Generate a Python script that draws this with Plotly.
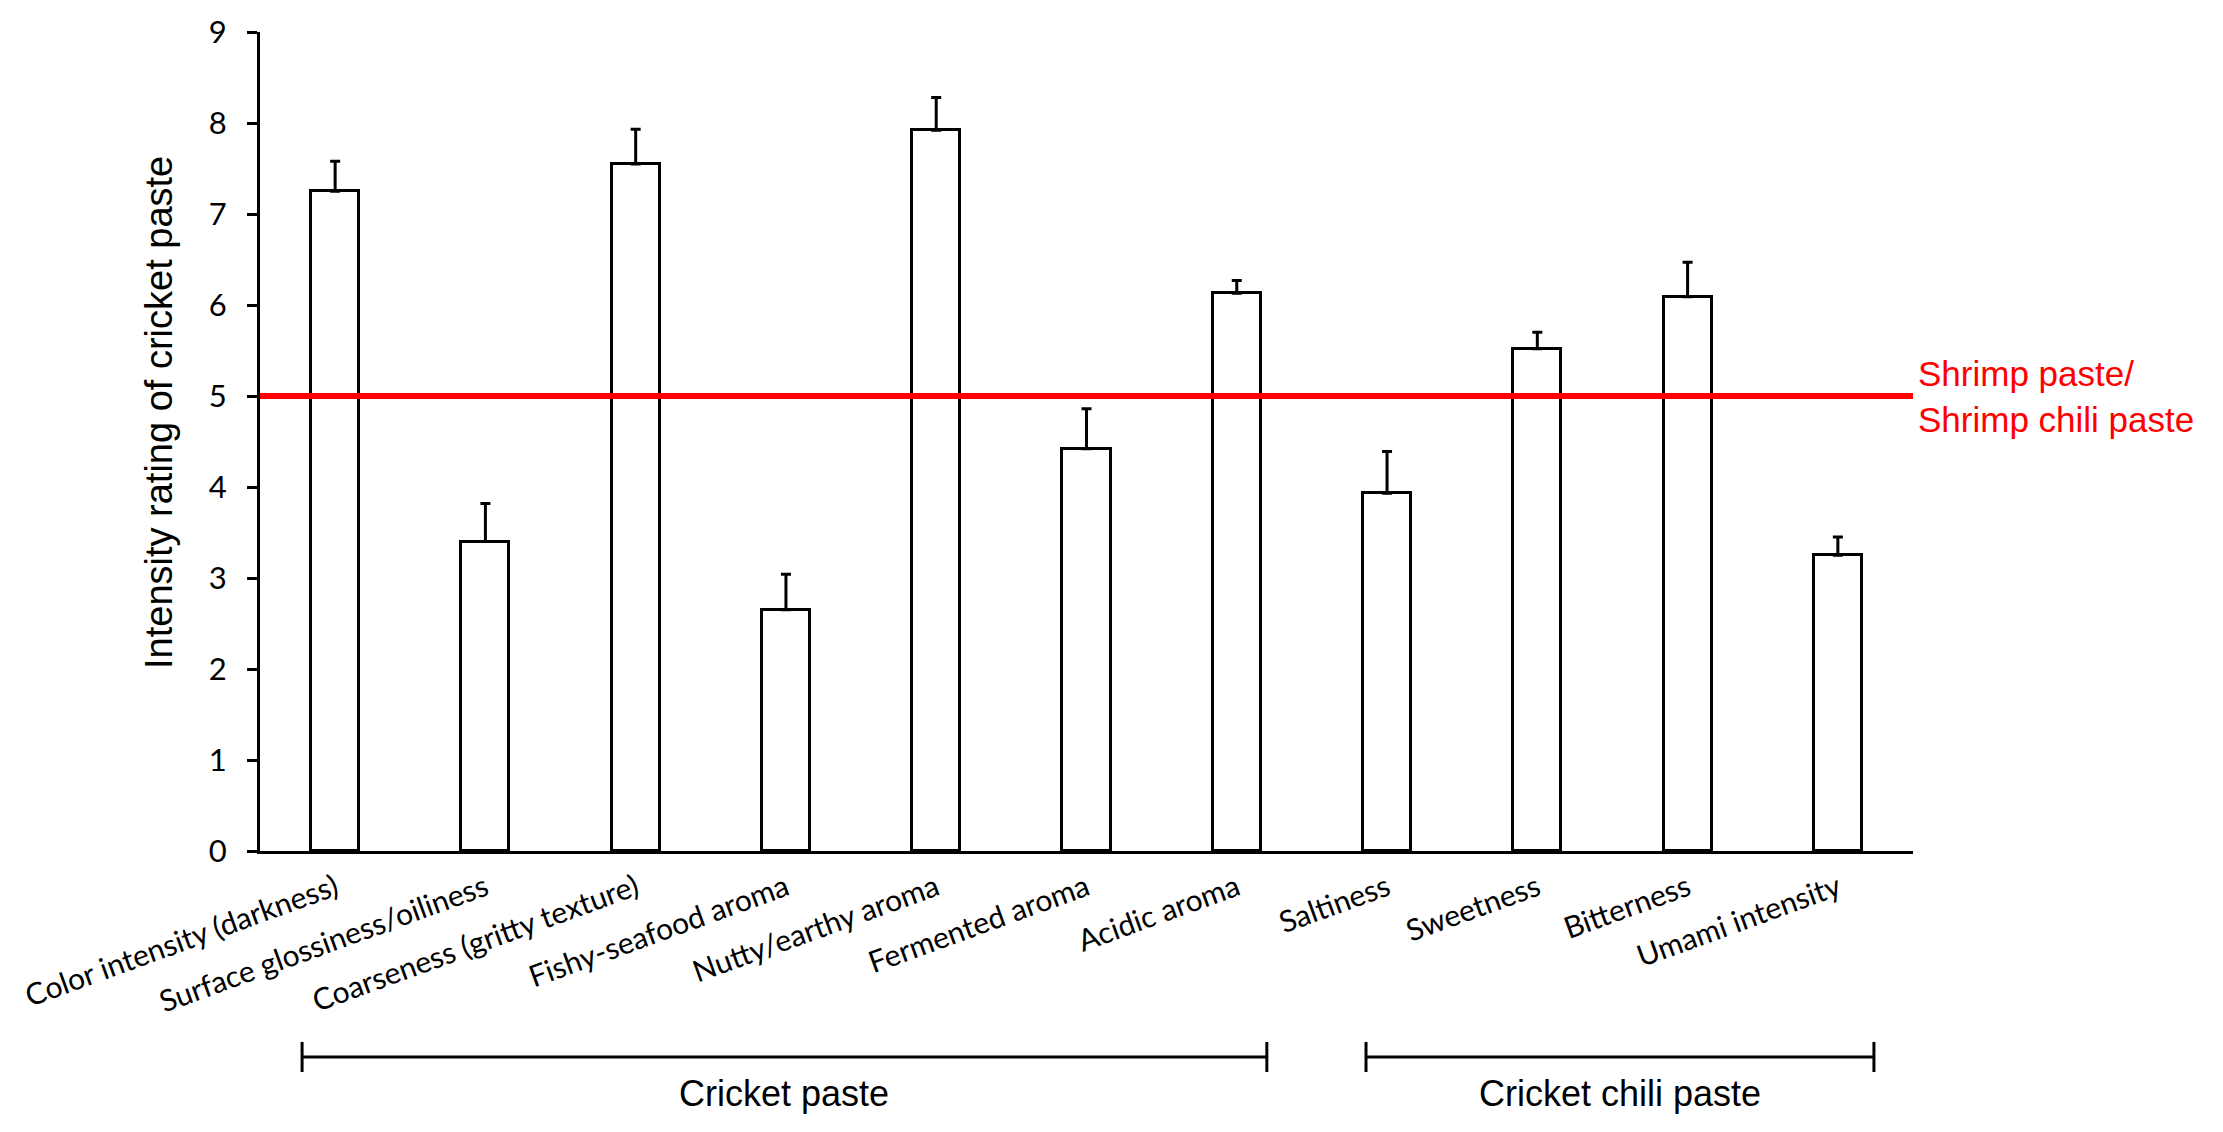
import plotly.graph_objects as go

categories = [
    "Color intensity (darkness)",
    "Surface glossiness/oiliness",
    "Coarseness (gritty texture)",
    "Fishy-seafood aroma",
    "Nutty/earthy aroma",
    "Fermented aroma",
    "Acidic aroma",
    "Saltiness",
    "Sweetness",
    "Bitterness",
    "Umami intensity",
]
means = [7.25, 3.40, 7.55, 2.65, 7.92, 4.42, 6.13, 3.93, 5.52, 6.09, 3.25]
errors = [0.33, 0.42, 0.38, 0.39, 0.36, 0.44, 0.14, 0.46, 0.18, 0.38, 0.20]
reference_value = 5
reference_label = "Shrimp paste/<br>Shrimp chili paste"
y_ticks = [0, 1, 2, 3, 4, 5, 6, 7, 8, 9]
groups = [
    ("Cricket paste", -0.22, 6.20),
    ("Cricket chili paste", 6.86, 10.24),
]

W, H = 2223, 1132
ML, MR, MT, MB = 252, 318, 24, 289
plot_h = H - MT - MB

xpos = list(range(len(categories)))

fig = go.Figure()
fig.add_trace(go.Bar(
    x=xpos, y=means, width=0.32,
    marker=dict(color="white", line=dict(color="black", width=3)),
    error_y=dict(type="data", array=errors, arrayminus=[0] * len(errors),
                 symmetric=False, color="black", thickness=3, width=5),
    showlegend=False,
))

shapes = [
    dict(type="line", xref="x", yref="y", x0=-0.5, x1=len(categories) - 0.5,
         y0=reference_value, y1=reference_value,
         line=dict(color="#FF0000", width=6), layer="above"),
]

def py(real_y):
    return (H - MB - real_y) / plot_h

annotations = [
    dict(text=reference_label, xref="paper", yref="y", x=1.002, y=reference_value,
         xanchor="left", yanchor="middle", align="left", showarrow=False,
         font=dict(family="Liberation Sans, Arial", size=35, color="#FF0000")),
    dict(text="Intensity rating of cricket paste", xref="paper", yref="paper",
         x=0, y=py(405), xshift=-101, xanchor="center", yanchor="middle",
         textangle=-90, showarrow=False,
         font=dict(family="Liberation Sans, Arial", size=38, color="black")),
]

bracket_y = py(1049)
tick_h = 15 / plot_h
for name, x0, x1 in groups:
    shapes.append(dict(type="line", xref="x", yref="paper", x0=x0, x1=x1,
                       y0=bracket_y, y1=bracket_y, line=dict(color="black", width=3)))
    for xe in (x0, x1):
        shapes.append(dict(type="line", xref="x", yref="paper", x0=xe, x1=xe,
                           y0=bracket_y - tick_h, y1=bracket_y + tick_h,
                           line=dict(color="black", width=3)))
    annotations.append(dict(text=name, xref="x", yref="paper", x=(x0 + x1) / 2,
                            y=py(1085), xanchor="center", yanchor="middle",
                            showarrow=False,
                            font=dict(family="Liberation Sans, Arial", size=36, color="black")))

fig.update_layout(
    width=W, height=H,
    margin=dict(l=ML, r=MR, t=MT, b=MB, autoexpand=False),
    paper_bgcolor="white", plot_bgcolor="white",
    shapes=shapes, annotations=annotations,
    bargap=0,
)
fig.update_xaxes(
    range=[-0.5, len(categories) - 0.5], tickmode="array", tickvals=xpos,
    ticktext=categories, tickangle=-20, showline=True, linecolor="black",
    linewidth=3, ticks="", showgrid=False, zeroline=False,
    tickfont=dict(family="Lato, Carlito, Calibri", size=30, color="black"),
    ticklabelstandoff=5, ticklabeloverflow="allow",
)
fig.update_yaxes(
    range=[0, 9], tickmode="array", tickvals=y_ticks, showline=True,
    linecolor="black", linewidth=3, ticks="outside", ticklen=10, tickwidth=3,
    tickcolor="black", showgrid=False, zeroline=False,
    tickfont=dict(family="Lato, Carlito, Calibri", size=31, color="black"),
    ticklabelstandoff=14, ticklabeloverflow="allow",
)

fig.write_html("out.html")
